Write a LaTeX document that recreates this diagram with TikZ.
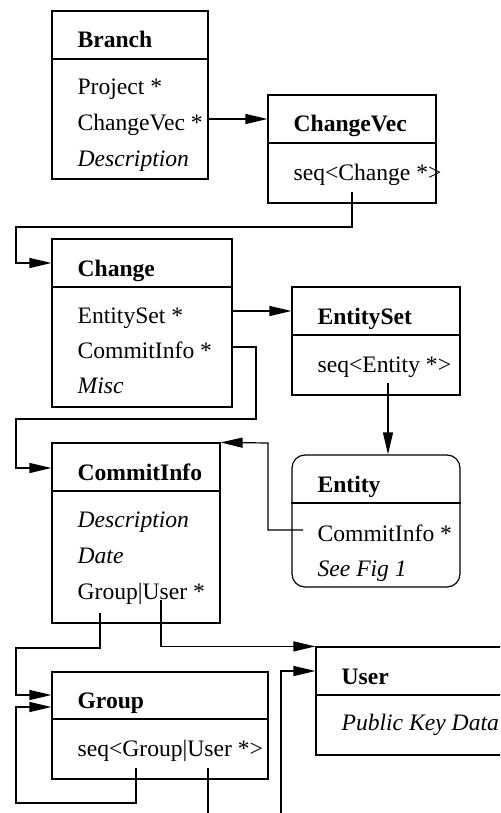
\documentclass[tikz,border=0pt]{standalone}
\usepackage{fontspec}
\setmainfont{Liberation Serif}
\usetikzlibrary{arrows.meta,fit}

\begin{document}
\begin{tikzpicture}[x=0.5pt, y=-0.5pt, >={Triangle[length=11pt,width=5pt]}, line width=0.6pt,
  font=\fontsize{11.8}{14}\selectfont,
  box/.style={draw, inner sep=0pt, fit={#1}},
  head/.style={anchor=base west, inner sep=0pt, font=\fontsize{11.8}{14}\selectfont\bfseries},
  row/.style={anchor=base west, inner sep=0pt}]
\useasboundingbox (0,0) rectangle (500,813);
\clip (0,0) rectangle (500,813);

\node (branch) [box={(52,11)(208,179)}] {};\draw (branch.west |- 0,59) -- (branch.east |- 0,59);
\node[head] (branch-t) at (77,48) {Branch};
\node[row] (branch-p) at (77,95) {Project *};
\node[row] (branch-cv) at (77,130) {ChangeVec *};
\node[row] (branch-d) at (77,166) {\itshape Description};

\node (changevec) [box={(268,95)(436,203)}] {};\draw (changevec.west |- 0,143) -- (changevec.east |- 0,143);
\node[head] (changevec-t) at (293,132) {ChangeVec};
\node[row] (changevec-s) at (293,180) {seq<Change *>};

\node (change) [box={(52,239)(232,407)}] {};\draw (change.west |- 0,287) -- (change.east |- 0,287);
\node[head] (change-t) at (77,276) {Change};
\node[row] (change-es) at (77,323) {EntitySet *};
\node[row] (change-ci) at (77,358) {CommitInfo *};
\node[row] (change-m) at (77,393) {\itshape Misc};

\node (entityset) [box={(292,287)(460,395)}] {};\draw (entityset.west |- 0,335) -- (entityset.east |- 0,335);
\node[head] (entityset-t) at (317,324) {EntitySet};
\node[row] (entityset-s) at (317,372) {seq<Entity *>};

\node (entity) [box={(292,455)(460,587)}, rounded corners=6.5pt] {};\draw (entity.west |- 0,503) -- (entity.east |- 0,503);
\node[head] (entity-t) at (317,492) {Entity};
\node[row] (entity-ci) at (317,541) {CommitInfo *};
\node[row] (entity-f) at (317,576) {\itshape See Fig 1};

\node (commitinfo) [box={(52,443)(220,623)}] {};\draw (commitinfo.west |- 0,491) -- (commitinfo.east |- 0,491);
\node[head] (commitinfo-t) at (77,480) {CommitInfo};
\node[row] (commitinfo-d) at (77,527) {\itshape Description};
\node[row] (commitinfo-dt) at (77,563) {\itshape Date};
\node[row] (commitinfo-gu) at (77,599) {Group|User *};

\node (group) [box={(52,672)(268,779)}] {};\draw (group.west |- 0,719) -- (group.east |- 0,719);
\node[head] (group-t) at (77,708) {Group};
\node[row] (group-s) at (77,756) {seq<Group|User *>};

\node (user) [box={(316,647)(560,755)}] {};\draw (user.west |- 0,695) -- (user.east |- 0,695);
\node[head] (user-t) at (341,684) {User};
\node[row] (user-k) at (341,730) {\itshape Public Key Data};

\coordinate (changevec-tap) at (352,192);\coordinate (entityset-tap) at (388,383);
\coordinate (entity-tap) at (303,530);
\coordinate (commitinfo-gtap) at (100,613);\coordinate (commitinfo-utap) at (161,600);
\coordinate (group-gtap) at (136,768);\coordinate (group-utap) at (208,768);
\coordinate (group-uend) at (208,820);\coordinate (user-in) at (281,820);

\draw[->] (branch.east |- 0,119) -- (changevec.west |- 0,119);
\draw[->] (changevec-tap) |- (16,227) |- (change.west |- 0,263);
\draw[->] (change.east |- 0,311) -- (entityset.west |- 0,311);
\draw[->] (change.east |- 0,347) -| (256,419) -| (16,468) -- (commitinfo.west |- 0,468);
\draw[->] (entityset-tap) -- (entity.north -| entityset-tap);
\draw[->] (entity-tap) -| (268,443) -- (commitinfo.north east);
\draw[->] (commitinfo-gtap) |- (16,648) |- (group.west |- 0,695);
\draw[->] (commitinfo-utap) |- (user.north west);
\draw[->] (group-gtap) |- (16,803) |- (group.west |- 0,707);
\draw (group-utap) -- (group-uend);
\draw[->] (user-in) |- (user.west |- 0,671);
\end{tikzpicture}
\end{document}
